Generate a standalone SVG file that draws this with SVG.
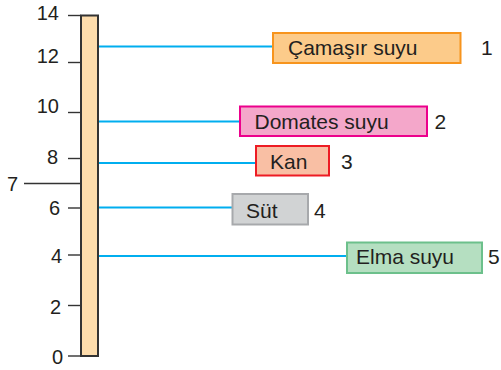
<svg xmlns="http://www.w3.org/2000/svg" width="501" height="370" viewBox="0 0 501 370">
<style>
text{font-family:"Liberation Sans",Arial,sans-serif;fill:#231F20}
.ax{font-size:20px;text-anchor:end}
.lb{font-size:21px}
.tick{stroke:#333;stroke-width:1.4}
.conn{stroke:#00AEEF;stroke-width:2}
</style>
<rect width="501" height="370" fill="#fff"/>
<g id="axis">
<line class="tick" x1="68" y1="15.5" x2="81" y2="15.5"/>
<line class="tick" x1="68" y1="62.5" x2="81" y2="62.5"/>
<line class="tick" x1="68" y1="112.5" x2="81" y2="112.5"/>
<line class="tick" x1="68" y1="158.5" x2="81" y2="158.5"/>
<line class="tick" x1="24" y1="183.5" x2="81" y2="183.5"/>
<line class="tick" x1="68" y1="208" x2="81" y2="208"/>
<line class="tick" x1="68" y1="255" x2="81" y2="255"/>
<line class="tick" x1="68" y1="305.5" x2="81" y2="305.5"/>
<line class="tick" x1="68" y1="356" x2="81" y2="356"/>
<text class="ax" x="59" y="20">14</text>
<text class="ax" x="59" y="63">12</text>
<text class="ax" x="59" y="113">10</text>
<text class="ax" x="58" y="163.5">8</text>
<text class="ax" x="18" y="191">7</text>
<text class="ax" x="60" y="215">6</text>
<text class="ax" x="62" y="263">4</text>
<text class="ax" x="61" y="314">2</text>
<text class="ax" x="63" y="364">0</text>
<rect x="81" y="15.5" width="17" height="340.5" fill="#FDDCAC" stroke="#333" stroke-width="2"/>
</g>
<g id="connectors">
<line class="conn" x1="99" y1="46.5" x2="273" y2="46.5"/>
<line class="conn" x1="99" y1="121.5" x2="240" y2="121.5"/>
<line class="conn" x1="99" y1="163" x2="256" y2="163"/>
<line class="conn" x1="99" y1="207.5" x2="232" y2="207.5"/>
<line class="conn" x1="99" y1="256" x2="347" y2="256"/>
</g>
<g id="n1">
<rect x="273" y="33" width="187.5" height="30" fill="#FCCB8A" stroke="#F7941D" stroke-width="2"/>
<text class="lb" x="288" y="55">Çamaşır suyu</text>
<text class="lb" x="481" y="55">1</text>
</g>
<g id="n2">
<rect x="240" y="106.5" width="187" height="29.5" fill="#F4A7CA" stroke="#EC008C" stroke-width="2"/>
<text class="lb" x="254.5" y="129">Domates suyu</text>
<text class="lb" x="434.5" y="129">2</text>
</g>
<g id="n3">
<rect x="256" y="146" width="73" height="29.5" fill="#F9BFA4" stroke="#ED1C24" stroke-width="2"/>
<text class="lb" x="270" y="168.5">Kan</text>
<text class="lb" x="341" y="168.5">3</text>
</g>
<g id="n4">
<rect x="232.5" y="194" width="75.5" height="30.5" fill="#D1D3D4" stroke="#A7A9AC" stroke-width="2"/>
<text class="lb" x="246" y="217.5">Süt</text>
<text class="lb" x="314" y="217.5">4</text>
</g>
<g id="n5">
<rect x="347" y="242.5" width="135" height="30.5" fill="#B5DFC1" stroke="#6CC08B" stroke-width="2"/>
<text class="lb" x="356" y="264">Elma suyu</text>
<text class="lb" x="488" y="264">5</text>
</g>
</svg>
